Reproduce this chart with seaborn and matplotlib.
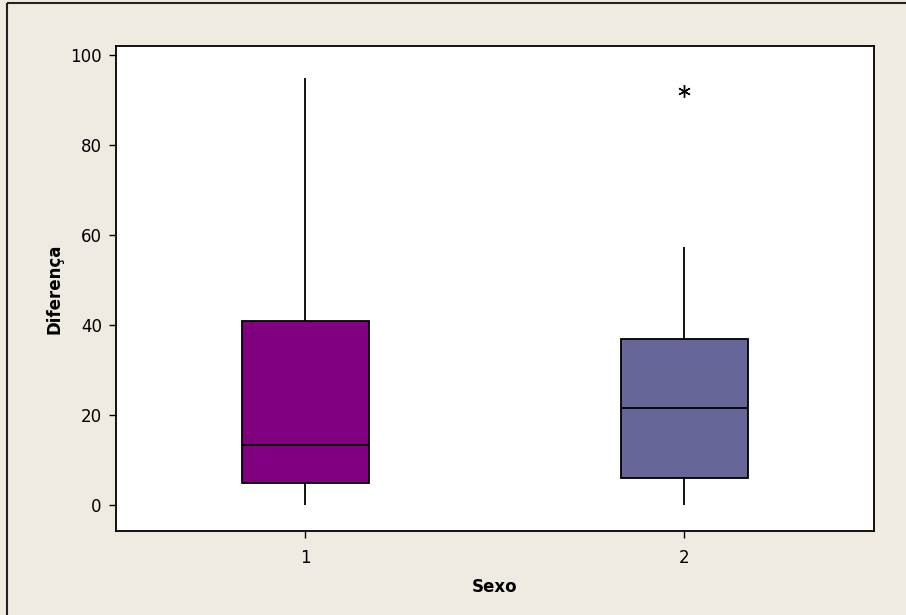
import matplotlib
matplotlib.use("Agg")
import matplotlib.pyplot as plt
import pandas as pd
import seaborn as sns
from matplotlib.lines import Line2D

# samples chosen so the box summaries match the picture
# (min, Q1, median, Q3, max / outlier)
sexo_1 = [0, 2, 4.8, 9, 13.3, 25, 41, 70, 95]
sexo_2 = [0, 3, 5.9, 15, 21.5, 30, 36.8, 57.3, 92.1]
categorias = ["1", "2"]
cores = ["#800080", "#666699"]
y_ticks = [0, 20, 40, 60, 80, 100]

BG = "#EFEBE1"

sns.set_style("ticks")
plt.rcParams["font.family"] = ["DejaVu Sans"]

df = pd.DataFrame({
    "Sexo": ["1"] * len(sexo_1) + ["2"] * len(sexo_2),
    "Diferença": sexo_1 + sexo_2,
})

fig = plt.figure(figsize=(9.06, 6.15), dpi=100, facecolor=BG)
ax = fig.add_axes([0.1277, 0.1366, 0.8370, 0.7891])
ax.set_facecolor("white")

sns.boxplot(
    data=df,
    x="Sexo",
    y="Diferença",
    hue="Sexo",
    order=categorias,
    hue_order=categorias,
    palette=cores,
    legend=False,
    width=0.334,
    whis=1.5,
    linecolor="black",
    linewidth=1.3,
    showcaps=False,
    saturation=1,
    flierprops=dict(marker=(6, 2, 0), markersize=9, markeredgecolor="black",
                    markerfacecolor="black", markeredgewidth=1.0),
    ax=ax,
)

ax.set_xlim(-0.5, 1.5)
ax.set_ylim(-5.8, 102.1)
ax.set_yticks(y_ticks)
ax.set_yticklabels([str(t) for t in y_ticks])

for side in ["top", "right", "left", "bottom"]:
    ax.spines[side].set_visible(True)
    ax.spines[side].set_color("black")
    ax.spines[side].set_linewidth(1.3)

ax.tick_params(axis="both", direction="out", length=5, width=1.0,
               color="black", labelsize=12, labelcolor="black", pad=5)
ax.tick_params(axis="x", pad=8)

ax.set_xlabel("Sexo", fontsize=12, fontweight="bold", color="black", labelpad=8)
ax.set_ylabel("Diferença", fontsize=12, fontweight="bold", color="black", labelpad=5)

# border of the outer panel (only top and left edges fall inside the image)
fig.add_artist(Line2D([6.5 / 906, 6.5 / 906], [0, 1 - 3 / 615],
                      transform=fig.transFigure, color="#222222", lw=1.5,
                      solid_capstyle="butt"))
fig.add_artist(Line2D([6.5 / 906, 1.01], [1 - 3 / 615, 1 - 3 / 615],
                      transform=fig.transFigure, color="#222222", lw=1.5,
                      solid_capstyle="butt"))

fig.savefig("out.png", dpi=100, facecolor=BG)
plt.close(fig)
